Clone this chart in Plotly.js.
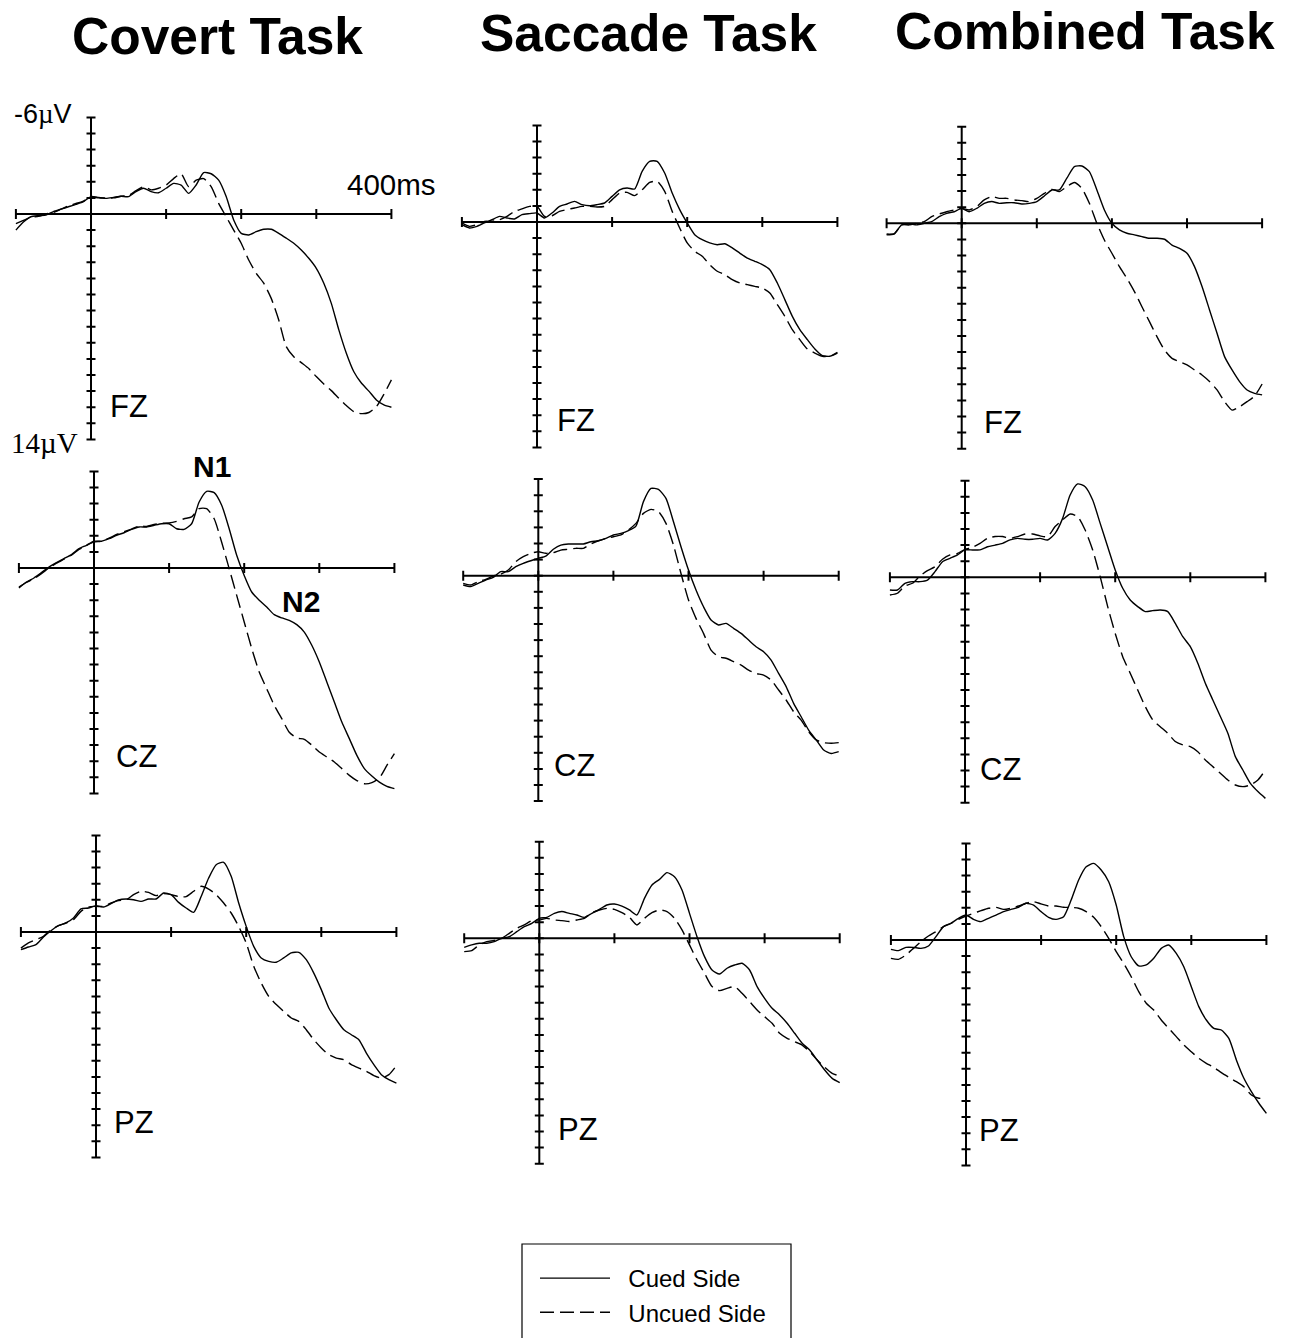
<!DOCTYPE html>
<html>
<head>
<meta charset="utf-8">
<script src="https://cdn.plot.ly/plotly-3.0.1.min.js"></script>
<style>
html,body{margin:0;padding:0;background:#ffffff;}
#chart{width:1291px;height:1338px;}
</style>
</head>
<body>
<div id="chart"></div>
<script>
// ---------------- DATA ----------------
const timeMs = [-100,-90,-80,-70,-60,-50,-40,-30,-20,-10,0,10,20,30,40,50,60,70,80,90,100,110,120,130,140,150,160,170,180,190,200,210,220,230,240,250,260,270,280,290,300,310,320,330,340,350,360,370,380,390,400];

const tasks = ['Covert Task', 'Saccade Task', 'Combined Task'];
const sites = ['FZ', 'CZ', 'PZ'];
const seriesNames = ['Cued Side', 'Uncued Side'];
const xTicks = [-100, 0, 100, 200, 300, 400];
const yTicks = [-6,-5,-4,-3,-2,-1,0,1,2,3,4,5,6,7,8,9,10,11,12,13,14];
const yLimitLabels = ['-6µV', '14µV'];
const timeLabel = '400ms';
const componentLabels = ['N1', 'N2'];

// Covert task (µV, negative up)
const covertFZ_cued = [1.0,0.5,0.17,0.1,0.06,-0.15,-0.3,-0.45,-0.6,-0.77,-1.08,-1.03,-0.97,-1.03,-1.1,-1.08,-1.39,-1.6,-1.39,-1.32,-1.6,-1.9,-1.8,-1.28,-1.8,-2.57,-2.5,-2.1,-1.08,0.37,1.2,1.3,1.1,0.95,0.95,1.2,1.5,1.82,2.24,2.75,3.37,4.3,5.55,7.2,8.65,9.8,10.5,11.0,11.55,11.86,12.0];
const covertFZ_uncued = [0.6,0.4,0.2,0.15,0.0,-0.1,-0.3,-0.5,-0.65,-0.8,-1.05,-1.0,-1.0,-1.0,-1.1,-1.15,-1.45,-1.7,-1.5,-1.6,-1.8,-2.2,-2.5,-1.7,-2.1,-2.2,-1.7,-0.66,0.17,1.0,1.82,2.86,3.69,4.3,5.24,6.58,8.24,8.86,9.23,9.6,10.1,10.56,10.97,11.45,11.9,12.28,12.4,12.33,11.97,11.2,10.3];
const covertCZ_cued = [1.24,0.87,0.62,0.29,-0.06,-0.33,-0.58,-0.83,-1.2,-1.41,-1.66,-1.66,-1.82,-2.03,-2.19,-2.4,-2.55,-2.55,-2.65,-2.75,-2.75,-2.44,-2.4,-2.75,-4.1,-4.76,-4.68,-3.9,-2.44,-0.79,0.46,1.49,2.0,2.42,2.9,3.1,3.25,3.52,3.98,4.8,5.84,7.08,8.32,9.57,10.6,11.64,12.46,12.92,13.3,13.56,13.7];
const covertCZ_uncued = [1.18,0.9,0.66,0.35,0.0,-0.3,-0.55,-0.8,-1.15,-1.4,-1.62,-1.66,-1.85,-2.08,-2.25,-2.42,-2.6,-2.58,-2.7,-2.78,-2.8,-2.9,-3.06,-3.17,-3.69,-3.69,-3.06,-1.6,0.04,1.7,3.35,5.0,6.46,7.5,8.53,9.36,10.2,10.56,10.64,11.0,11.43,11.74,12.05,12.46,12.88,13.2,13.4,13.33,13.04,12.26,11.53];
const covertPZ_cued = [1.1,0.93,0.79,0.31,-0.08,-0.39,-0.56,-0.87,-1.43,-1.49,-1.64,-1.55,-1.76,-2.0,-2.05,-2.0,-1.9,-2.05,-2.05,-2.42,-2.32,-1.84,-1.49,-1.22,-2.2,-3.35,-4.18,-4.33,-3.46,-1.8,-0.35,0.89,1.61,1.82,1.88,1.61,1.3,1.26,1.72,2.55,3.58,4.72,5.45,6.07,6.38,6.69,7.52,8.24,8.86,9.17,9.38];
const covertPZ_uncued = [1.0,0.68,0.48,0.27,-0.14,-0.39,-0.56,-0.77,-1.28,-1.55,-1.59,-1.59,-1.8,-1.96,-2.0,-2.32,-2.53,-2.46,-2.26,-2.38,-2.32,-2.2,-2.2,-2.53,-2.84,-2.67,-2.32,-1.8,-1.18,-0.35,0.68,2.13,3.17,4.0,4.51,4.93,5.34,5.55,6.07,6.69,7.2,7.62,7.83,7.93,8.24,8.45,8.65,8.92,9.07,8.86,8.3];

// Saccade task
const saccadeFZ_cued = [0.17,0.37,0.27,0.06,-0.14,-0.35,-0.25,-0.19,-0.46,-0.52,-0.56,-0.25,-0.56,-0.97,-1.12,-1.28,-1.08,-1.01,-1.08,-1.18,-1.59,-2.0,-2.11,-2.05,-3.15,-3.77,-3.77,-3.04,-1.8,-0.77,0.06,0.79,1.1,1.3,1.41,1.35,1.61,1.93,2.24,2.44,2.65,2.96,3.79,4.82,5.86,6.69,7.31,7.89,8.3,8.34,8.1];
const saccadeFZ_uncued = [0.06,0.27,0.17,-0.04,-0.04,-0.14,-0.35,-0.66,-0.81,-0.97,-0.97,-0.35,-0.39,-0.66,-0.77,-0.87,-0.97,-0.97,-0.93,-0.97,-1.39,-1.8,-1.84,-1.64,-2.0,-2.46,-2.53,-1.9,-0.66,0.37,1.3,1.82,2.13,2.65,3.06,3.27,3.58,3.79,3.89,4.0,4.1,4.41,5.13,5.86,6.69,7.31,7.89,8.14,8.34,8.34,8.14];
const saccadeCZ_cued = [0.58,0.68,0.48,0.27,0.1,-0.25,-0.25,-0.56,-0.77,-0.93,-1.08,-1.22,-1.64,-1.9,-1.97,-1.97,-1.97,-2.11,-2.17,-2.32,-2.53,-2.63,-2.8,-3.08,-4.6,-5.42,-5.36,-4.8,-3.35,-1.8,-0.35,0.89,1.93,2.75,3.06,2.96,3.27,3.58,4.0,4.41,4.72,5.24,6.07,6.89,7.93,8.76,9.59,10.2,10.83,11.04,10.93];
const saccadeCZ_uncued = [0.48,0.58,0.37,0.23,0.02,-0.1,-0.35,-0.87,-1.18,-1.39,-1.49,-1.39,-1.43,-1.59,-1.64,-1.7,-1.7,-1.97,-2.17,-2.32,-2.42,-2.53,-2.84,-3.25,-3.87,-4.12,-3.98,-3.25,-1.9,-0.14,1.51,2.65,3.58,4.62,5.03,5.13,5.34,5.55,5.86,6.07,6.17,6.48,7.1,7.72,8.45,8.97,9.69,10.2,10.37,10.41,10.37];
const saccadePZ_cued = [0.56,0.41,0.31,0.31,0.21,0.0,-0.1,-0.41,-0.72,-0.93,-1.24,-1.3,-1.55,-1.66,-1.55,-1.45,-1.3,-1.55,-1.8,-2.07,-2.13,-2.0,-1.76,-1.45,-2.48,-3.31,-3.66,-4.08,-3.83,-3.0,-1.55,-0.1,1.14,1.97,2.22,1.86,1.66,1.55,1.97,3.0,3.73,4.35,4.76,5.28,5.9,6.52,6.94,7.56,8.18,8.7,8.96];
const saccadePZ_uncued = [0.83,0.77,0.41,0.21,0.14,0.0,-0.31,-0.62,-0.83,-1.1,-1.14,-1.24,-1.14,-1.1,-1.04,-1.14,-1.24,-1.59,-1.76,-1.86,-1.8,-1.59,-1.3,-0.83,-1.24,-1.59,-1.76,-1.66,-1.24,-0.52,0.41,1.35,2.17,3.0,3.25,3.11,3.0,3.42,3.93,4.45,4.87,5.28,5.9,6.21,6.42,6.63,7.04,7.56,8.01,8.39,8.55];

// Combined task
const combinedFZ_cued = [0.66,0.66,0.1,0.04,0.1,0.0,-0.1,-0.41,-0.62,-0.72,-0.93,-0.72,-0.93,-1.24,-1.35,-1.24,-1.28,-1.28,-1.2,-1.24,-1.35,-1.7,-2.07,-2.07,-2.8,-3.52,-3.56,-3.21,-2.07,-0.83,0.0,0.41,0.62,0.72,0.83,0.93,0.93,0.99,1.35,1.55,1.86,2.69,3.93,5.38,6.83,8.28,9.11,9.83,10.35,10.56,10.66];
const combinedFZ_uncued = [0.72,0.66,0.1,0.1,0.0,-0.1,-0.41,-0.58,-0.72,-0.83,-0.93,-0.83,-1.04,-1.45,-1.66,-1.55,-1.55,-1.45,-1.41,-1.35,-1.55,-1.86,-2.11,-1.97,-2.28,-2.53,-2.17,-1.24,0.0,1.04,1.86,2.69,3.42,4.24,5.18,6.11,7.04,7.87,8.39,8.59,8.8,9.11,9.42,9.83,10.35,11.08,11.6,11.39,11.08,10.73,9.98];
const combinedCZ_cued = [0.79,0.79,0.37,0.27,0.27,0.17,-0.35,-0.97,-1.18,-1.39,-1.7,-1.7,-1.7,-1.9,-2.0,-2.11,-2.32,-2.42,-2.36,-2.36,-2.42,-2.32,-2.73,-3.66,-5.11,-5.8,-5.63,-4.8,-3.35,-1.9,-0.46,0.68,1.41,1.82,2.13,2.07,2.03,2.13,2.86,3.69,4.31,5.34,6.58,7.62,8.65,9.69,11.14,11.97,12.8,13.31,13.73];
const combinedCZ_uncued = [1.1,0.99,0.54,0.37,-0.08,-0.41,-0.66,-1.12,-1.39,-1.49,-1.74,-1.86,-2.11,-2.42,-2.53,-2.53,-2.42,-2.53,-2.69,-2.69,-2.57,-2.53,-3.15,-3.56,-3.93,-3.77,-2.94,-1.7,-0.04,1.82,3.48,4.93,5.96,7.0,8.03,8.86,9.28,9.69,10.2,10.41,10.52,10.83,11.35,11.76,12.17,12.59,12.9,13.0,12.9,12.59,11.97];
const combinedPZ_cued = [0.58,0.66,0.46,0.46,0.52,0.37,-0.21,-0.83,-1.04,-1.35,-1.55,-1.28,-1.14,-1.35,-1.55,-1.76,-1.9,-2.03,-2.28,-2.17,-1.76,-1.41,-1.28,-1.45,-2.48,-3.73,-4.55,-4.76,-4.35,-3.62,-2.17,-0.21,1.04,1.61,1.55,1.14,0.52,0.31,0.83,1.66,2.9,4.14,4.97,5.49,5.59,6.11,7.45,8.59,9.42,10.14,10.77];
const combinedPZ_uncued = [1.14,1.2,0.93,0.52,0.1,-0.25,-0.52,-0.83,-1.04,-1.28,-1.49,-1.66,-1.82,-1.97,-2.03,-1.9,-1.97,-2.11,-2.28,-2.38,-2.24,-2.11,-2.11,-2.03,-2.03,-1.97,-1.76,-1.41,-0.83,-0.1,0.72,1.45,2.28,3.21,3.93,4.35,4.97,5.49,6.0,6.52,6.94,7.35,7.66,7.91,8.24,8.53,8.8,9.11,9.63,9.83,9.83];

// ---------------- LAYOUT GEOMETRY (pixels) ----------------
const W = 1291, H = 1338;
const PX_PER_MS = 0.751, PX_PER_UV = 16.1;
const X_RANGE = [-106, 406], Y_RANGE = [-6.4, 14.4];
// pixel position of (0 ms, 0 µV) for each [task][site]
const origins = [
  [[91, 214], [94, 568], [96, 932]],
  [[537, 222], [538.3, 575.7], [539.3, 938.3]],
  [[961.7, 223.3], [965, 577.3], [966, 940]]
];
// site labels (left edge x, centre y)
const siteLabelPos = [
  [[108, 407], [114, 756], [112, 1122]],
  [[555, 420], [552, 765], [556, 1129]],
  [[982, 422], [978, 769], [977, 1130]]
];
const titlePos = [[217.5, 36], [648.5, 33], [1085, 31]];

const dataGrid = [
  [[covertFZ_cued, covertFZ_uncued], [covertCZ_cued, covertCZ_uncued], [covertPZ_cued, covertPZ_uncued]],
  [[saccadeFZ_cued, saccadeFZ_uncued], [saccadeCZ_cued, saccadeCZ_uncued], [saccadePZ_cued, saccadePZ_uncued]],
  [[combinedFZ_cued, combinedFZ_uncued], [combinedCZ_cued, combinedCZ_uncued], [combinedPZ_cued, combinedPZ_uncued]]
];

const SANS = 'Liberation Sans, Arial, Helvetica, sans-serif';
const SERIF = 'Liberation Serif, Times New Roman, serif';
const px = v => v / W;
const py = v => 1 - v / H;

const traces = [];
const shapes = [];
const annotations = [];
const layout = {
  width: W, height: H,
  margin: {l: 0, r: 0, t: 0, b: 0, pad: 0},
  paper_bgcolor: '#ffffff',
  plot_bgcolor: 'rgba(0,0,0,0)',
  font: {family: SANS, color: '#000'},
  showlegend: true,
  hovermode: false,
  legend: {
    x: px(535), y: py(1256), xanchor: 'left', yanchor: 'top',
    bgcolor: 'rgba(0,0,0,0)', borderwidth: 0,
    font: {family: SANS, size: 24, color: '#000'},
    itemwidth: 70, tracegroupgap: 0, traceorder: 'normal'
  }
};

const lineStyles = [
  {color: '#000', width: 1.4, dash: 'solid'},
  {color: '#000', width: 1.4, dash: '14px,6px'}
];
const GAP = '\u00A0\u00A0';

let k = 0;
for (let i = 0; i < tasks.length; i++) {
  for (let j = 0; j < sites.length; j++) {
    k++;
    const xa = 'x' + (k > 1 ? k : '');
    const ya = 'y' + (k > 1 ? k : '');
    const [ox, oy] = origins[i][j];
    layout['xaxis' + (k > 1 ? k : '')] = {
      domain: [px(ox + X_RANGE[0] * PX_PER_MS), px(ox + X_RANGE[1] * PX_PER_MS)],
      range: X_RANGE, visible: false, fixedrange: true, anchor: ya
    };
    layout['yaxis' + (k > 1 ? k : '')] = {
      domain: [py(oy + Y_RANGE[1] * PX_PER_UV), py(oy + Y_RANGE[0] * PX_PER_UV)],
      range: [Y_RANGE[1], Y_RANGE[0]], visible: false, fixedrange: true, anchor: xa
    };
    for (let s = 0; s < 2; s++) {
      traces.push({
        type: 'scatter', mode: 'lines',
        x: timeMs, y: dataGrid[i][j][s],
        xaxis: xa, yaxis: ya,
        name: GAP + seriesNames[s], legendgroup: seriesNames[s],
        showlegend: k === 1,
        line: Object.assign({shape: 'spline', smoothing: 0.6}, lineStyles[s]),
        hoverinfo: 'skip'
      });
    }
    // axis lines
    shapes.push({type: 'line', xref: xa, yref: ya, x0: xTicks[0], x1: xTicks[xTicks.length - 1], y0: 0, y1: 0,
                 line: {color: '#000', width: 2}});
    shapes.push({type: 'line', xref: xa, yref: ya, x0: 0, x1: 0, y0: yTicks[0], y1: yTicks[yTicks.length - 1],
                 line: {color: '#000', width: 2}});
    xTicks.forEach(t => shapes.push({
      type: 'line', xref: xa, yref: ya, x0: t, x1: t,
      ysizemode: 'pixel', yanchor: 0, y0: -5, y1: 5,
      line: {color: '#000', width: 2}
    }));
    yTicks.forEach(v => shapes.push({
      type: 'line', xref: xa, yref: ya, y0: v, y1: v,
      xsizemode: 'pixel', xanchor: 0, x0: -4.5, x1: 4.5,
      line: {color: '#000', width: 2}
    }));
    const [lx, ly] = siteLabelPos[i][j];
    annotations.push({
      xref: 'paper', yref: 'paper', x: px(lx), y: py(ly), xanchor: 'left', yanchor: 'middle',
      text: sites[j], showarrow: false, font: {family: SANS, size: 31, color: '#000'}
    });
  }
  annotations.push({
    xref: 'paper', yref: 'paper', x: px(titlePos[i][0]), y: py(titlePos[i][1]),
    xanchor: 'center', yanchor: 'middle', text: '<b>' + tasks[i] + '</b>', showarrow: false,
    font: {family: SANS, size: 51.5, color: '#000'}
  });
}

// scale labels on covert FZ
annotations.push({xref: 'paper', yref: 'paper', x: px(42.5), y: py(114), xanchor: 'center', yanchor: 'middle',
  text: '-6<span style="font-family:' + SERIF + '">µ</span>V', showarrow: false, font: {family: SANS, size: 27, color: '#000'}});
annotations.push({xref: 'paper', yref: 'paper', x: px(44.5), y: py(443), xanchor: 'center', yanchor: 'middle',
  text: yLimitLabels[1], showarrow: false, font: {family: SERIF, size: 29, color: '#000'}});
annotations.push({xref: 'paper', yref: 'paper', x: px(391), y: py(184), xanchor: 'center', yanchor: 'middle',
  text: timeLabel, showarrow: false, font: {family: SANS, size: 29.5, color: '#000'}});
// component labels on covert CZ
annotations.push({xref: 'paper', yref: 'paper', x: px(212), y: py(466), xanchor: 'center', yanchor: 'middle',
  text: '<b>' + componentLabels[0] + '</b>', showarrow: false, font: {family: SANS, size: 30, color: '#000'}});
annotations.push({xref: 'paper', yref: 'paper', x: px(301), y: py(601), xanchor: 'center', yanchor: 'middle',
  text: '<b>' + componentLabels[1] + '</b>', showarrow: false, font: {family: SANS, size: 30, color: '#000'}});

// legend frame (extends past the bottom edge as in the reference)
shapes.push({type: 'rect', xref: 'paper', yref: 'paper', x0: px(522), x1: px(791), y0: py(1360), y1: py(1244),
  line: {color: '#000', width: 1.2}, fillcolor: 'rgba(0,0,0,0)'});

layout.shapes = shapes;
layout.annotations = annotations;

Plotly.newPlot('chart', traces, layout, {staticPlot: true, displayModeBar: false});
</script>
</body>
</html>
